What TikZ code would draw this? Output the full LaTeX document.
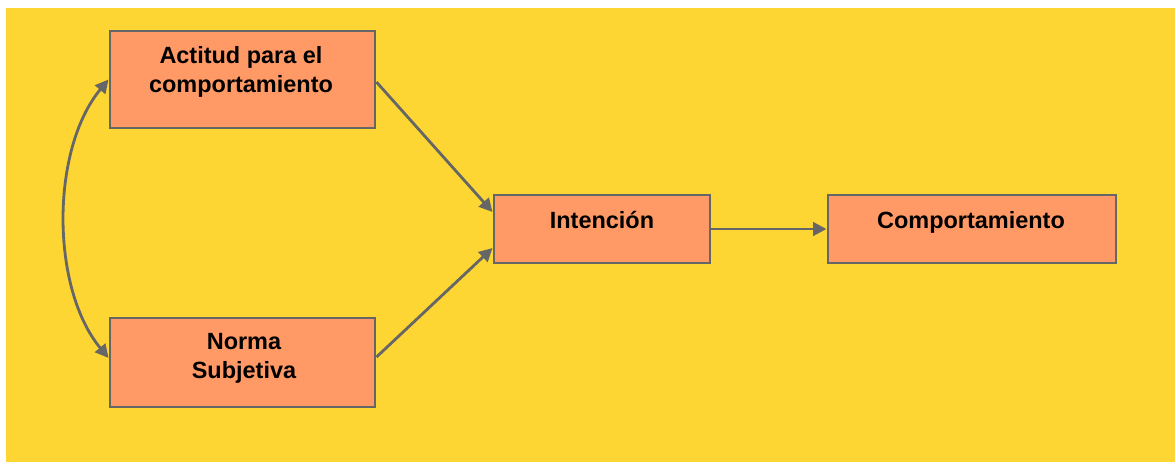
\documentclass[tikz,border=0pt]{standalone}
\usepackage{fontspec}
\setmainfont{Liberation Sans}
\usetikzlibrary{arrows.meta}
\definecolor{bgyellow}{RGB}{254,214,51}
\definecolor{boxfill}{RGB}{255,153,102}
\definecolor{edgegray}{RGB}{102,102,102}
\tikzset{
  box/.style={draw=edgegray, fill=boxfill, line width=2.2pt, rectangle, inner sep=0pt},
  boxtext/.style={inner sep=0pt, font=\fontsize{17.6pt}{22pt}\selectfont\bfseries, align=center, text=black},
  conn/.style={draw=edgegray, line width=2.1pt, -{Triangle[length=10pt,width=10pt]}},
  biconn/.style={draw=edgegray, line width=2.1pt, {Triangle[length=10pt,width=10pt]}-{Triangle[length=10pt,width=10pt]}}
}
\begin{document}
\begin{tikzpicture}[x=0.75pt,y=-0.75pt]
\useasboundingbox (0,0) rectangle (1175,462);
\fill[bgyellow] (6,8) rectangle (1175,462);
% boxes
\node[box, minimum width=198.75pt, minimum height=72.75pt] (act) at (242.5,79.5) {};
\node[box, minimum width=198.75pt, minimum height=66.75pt] (norm) at (242.5,362.5) {};
\node[box, minimum width=162pt, minimum height=51pt] (int) at (602,229) {};
\node[box, minimum width=216pt, minimum height=51pt] (comp) at (972,229) {};
% texts
\node[boxtext] (acttext) at (241,72) {Actitud para el\\comportamiento};
\node[boxtext] (normtext) at (244,358.5) {Norma\\Subjetiva};
\node[boxtext, anchor=base] (inttext) at (602,228) {Intención};
\node[boxtext, anchor=base] (comptext) at (971,228) {Comportamiento};
% connectors
\draw[conn] ([yshift=-1.9pt]act.east) -- ([yshift=12.75pt]int.west);
\draw[conn] ([yshift=4.1pt]norm.east) -- ([yshift=-14.25pt]int.west);
\draw[conn] (int.east) -- (comp.west);
\draw[biconn] (act.west) .. controls +(-58,70) and +(-58,-70) .. ([yshift=3.4pt]norm.west);
\end{tikzpicture}
\end{document}
